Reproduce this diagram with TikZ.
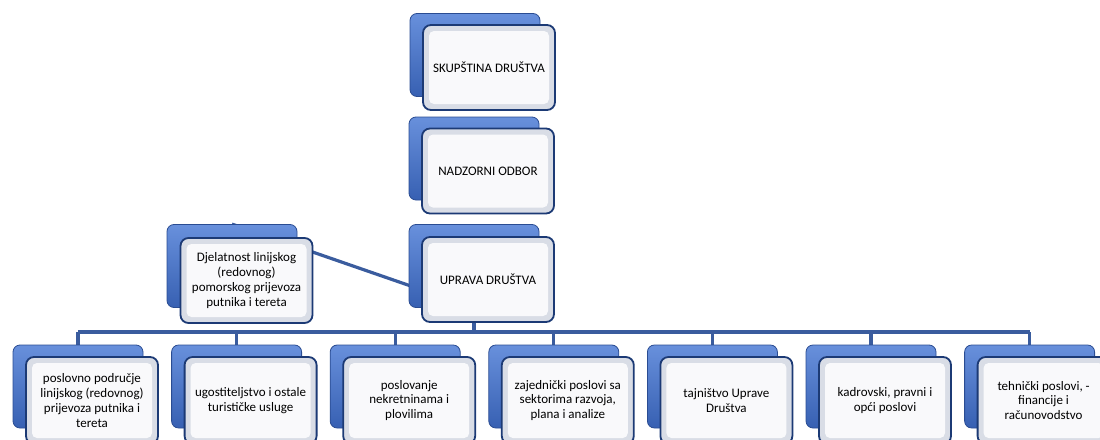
\documentclass[tikz,border=0pt]{standalone}
\usepackage{fontspec}
\setmainfont{Carlito}
\usetikzlibrary{positioning}
\pgfdeclarelayer{background}
\pgfsetlayers{background,main}
\definecolor{backtop}{HTML}{6890DC}
\definecolor{backbot}{HTML}{3760B2}
\definecolor{backline}{HTML}{2A4C92}
\definecolor{frontline}{HTML}{1C3A75}
\definecolor{frontedge}{HTML}{D9DDE6}
\definecolor{connline}{HTML}{3A5C9E}
\tikzset{
  backbox/.style={draw=backline, line width=0.8pt, rounded corners=7pt,
    top color=backtop, bottom color=backbot, minimum width=130pt, minimum height=83pt,
    inner sep=0pt},
  frontbox/.style={draw=frontline, line width=1.8pt, rounded corners=8pt,
    fill=frontedge,
    path picture={\fill[white, rounded corners=5pt, opacity=0.85]
      ([shift={(6pt,-6pt)}]path picture bounding box.north west) rectangle
      ([shift={(-6pt,6pt)}]path picture bounding box.south east);},
    minimum width=132pt, minimum height=85pt, inner sep=0pt,
    align=center, font=\fontsize{13pt}{14.8pt}\selectfont},
  conn/.style={draw=connline, line width=3.2pt}
}
\begin{document}
\begin{tikzpicture}[x=1pt,y=-1pt]
\useasboundingbox (0,0) rectangle (1100,439);
% top column
\node[backbox] (sb) at (475,55) {};
\node[frontbox] (sf) at (489,67.5) {SKUPŠTINA DRUŠTVA};
\node[backbox] (nb) at (474,158.5) {};
\node[frontbox] (nf) at (488,171) {NADZORNI ODBOR};
\node[backbox] (ub) at (474,266) {};
\node[frontbox] (uf) at (488,279.5) {UPRAVA DRUŠTVA};
% assistant
\node[backbox] (db) at (232,266) {};
\node[frontbox] (df) at (246.5,280.5) {Djelatnost linijskog\\(redovnog)\\pomorskog prijevoza\\putnika i tereta};
% children
\foreach \i/\txt in {0/{poslovno područje\\linijskog (redovnog)\\prijevoza putnika i\\tereta},
  1/{ugostiteljstvo i ostale\\turističke usluge},
  2/{poslovanje\\nekretninama i\\plovilima},
  3/{zajednički poslovi sa\\sektorima razvoja,\\plana i analize},
  4/{tajništvo Uprave\\Društva},
  5/{kadrovski, pravni i\\opći poslovi},
  6/{tehnički poslovi, -\\financije i\\računovodstvo}}{
  \node[backbox] (c\i b) at ({78+158.6*\i},386.5) {};
  \node[frontbox, minimum height=87pt] (c\i f) at ({92+158.6*\i},400.5) {\txt};
}
\coordinate (bus) at (0,332);
\begin{pgfonlayer}{background}
  \draw[conn] (db.north) -- (ub.south);
  \draw[conn] (ub.center) -- (ub.center |- bus);
  \draw[conn] (c0b.north |- bus) -- (c6b.north |- bus);
  \foreach \i in {0,...,6}{
    \draw[conn] (c\i b.north |- bus) -- (c\i b.north);
  }
\end{pgfonlayer}
\end{tikzpicture}
\end{document}
